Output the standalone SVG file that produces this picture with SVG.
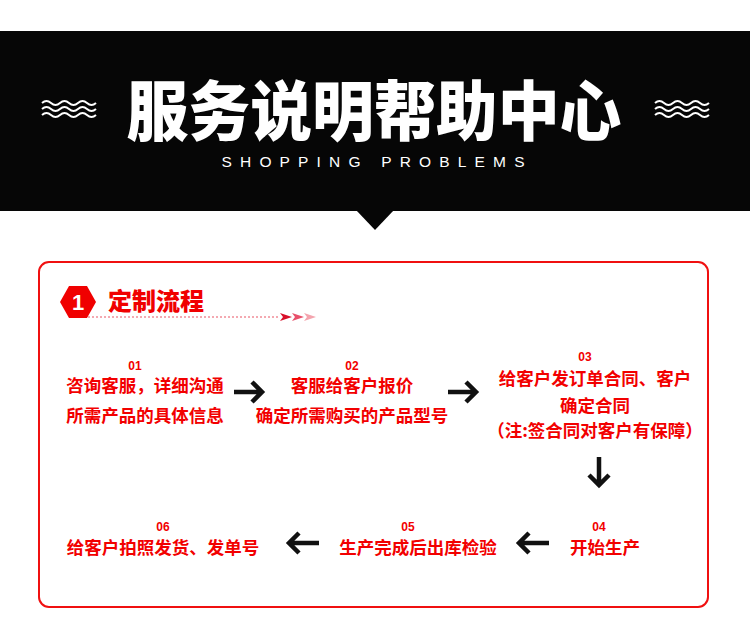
<svg xmlns="http://www.w3.org/2000/svg" width="750" height="626" viewBox="0 0 750 626">
<style>
.cn{font-family:"Noto Sans CJK SC","Noto Sans",sans-serif;font-weight:700;fill:#f20000;font-size:17.5px;text-anchor:middle}
.num{font-family:"Liberation Sans",Arial,sans-serif;font-weight:700;fill:#f20000;font-size:12px;text-anchor:middle}
.arr{fill:none;stroke:#111;stroke-width:4.5;stroke-linecap:butt}
.wave{fill:none;stroke:#fff;stroke-width:2}
</style>
<defs>
<path id="w" d="M0,0 q4.5,-4 9,0 t9,0 t9,0 t9,0 t9,0 t9,0"/>
<path id="chev" d="M0,-4 L12,0 L0,4 L3,0 Z"/>
</defs>
<rect width="750" height="626" fill="#fff"/>
<g id="banner">
<rect x="0" y="31" width="750" height="180" fill="#060606"/>
<polygon points="356,210 394,210 375,230" fill="#060606"/>
<text x="374" y="135" font-family="Noto Sans CJK SC,sans-serif" font-weight="900" font-size="65" fill="#fff" text-anchor="middle" textLength="495" lengthAdjust="spacingAndGlyphs">服务说明帮助中心</text>
<text x="373" y="167" font-family="Liberation Sans,Arial,sans-serif" font-size="15.5" fill="#fff" text-anchor="middle" textLength="303" lengthAdjust="spacing">SHOPPING PROBLEMS</text>
<g class="wave">
<use href="#w" x="42" y="103"/><use href="#w" x="42" y="109"/><use href="#w" x="42" y="115"/>
<use href="#w" x="655" y="103"/><use href="#w" x="655" y="109"/><use href="#w" x="655" y="115"/>
</g>
</g>
<g id="panel">
<rect x="39" y="262" width="669" height="345" rx="10" fill="none" stroke="#f01010" stroke-width="2"/>
</g>
<g id="heading">
<polygon points="60,302 69,286 87,286 96,302 87,318 69,318" fill="#f00000"/>
<text x="78" y="310" font-family="Liberation Sans,Arial,sans-serif" font-weight="700" font-size="22" fill="#fff" text-anchor="middle">1</text>
<text x="108" y="310" font-family="Noto Sans CJK SC,sans-serif" font-weight="900" font-size="24" fill="#f00000">定制流程</text>
<line x1="88" y1="317" x2="279" y2="317" stroke="#ea5464" stroke-width="1.2" stroke-dasharray="2,2"/>
<use href="#chev" x="280" y="317" fill="#d8102a"/>
<use href="#chev" x="292" y="317" fill="#e8506a"/>
<use href="#chev" x="304" y="317" fill="#f4a4ae"/>
</g>
<g id="step01">
<text class="num" x="135" y="370">01</text>
<text class="cn" x="145" y="392">咨询客服，详细沟通</text>
<text class="cn" x="145" y="422">所需产品的具体信息</text>
</g>
<g id="step02">
<text class="num" x="352" y="370">02</text>
<text class="cn" x="352" y="392">客服给客户报价</text>
<text class="cn" x="352" y="422">确定所需购买的产品型号</text>
</g>
<g id="step03">
<text class="num" x="585" y="361">03</text>
<text class="cn" x="595" y="385">给客户发订单合同、客户</text>
<text class="cn" x="595" y="412">确定合同</text>
<text class="cn" x="595" y="437">（注:签合同对客户有保障）</text>
</g>
<g id="step04">
<text class="num" x="599" y="531">04</text>
<text class="cn" x="605" y="554">开始生产</text>
</g>
<g id="step05">
<text class="num" x="408" y="531">05</text>
<text class="cn" x="418" y="554">生产完成后出库检验</text>
</g>
<g id="step06">
<text class="num" x="163" y="531">06</text>
<text class="cn" x="163" y="554">给客户拍照发货、发单号</text>
</g>
<g id="connectors" class="arr">
<path d="M234,392 H261 M252,382 L262,392 L252,402"/>
<path d="M448,392 H475 M466,382 L476,392 L466,402"/>
<path d="M599,457 V485 M589,475 L599,485 L609,475"/>
<path d="M549,543 H520 M529,533 L519,543 L529,553"/>
<path d="M319,543 H290 M299,533 L289,543 L299,553"/>
</g>
</svg>
